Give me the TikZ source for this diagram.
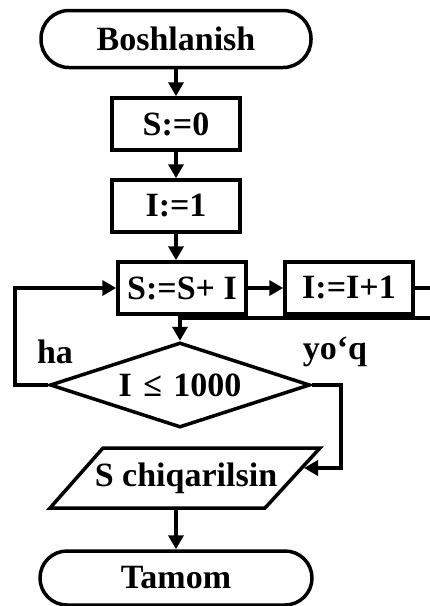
\documentclass[tikz,border=0pt]{standalone}
\usepackage{fontspec}
\setmainfont{Liberation Serif}
\usetikzlibrary{arrows.meta,shapes.geometric}
\begin{document}
\begin{tikzpicture}[x=1pt,y=-1pt,line width=3.5pt,
  >={Triangle[length=14pt,width=15pt]},
  font=\bfseries\fontsize{34}{38}\selectfont]
\tikzset{
  term/.style={draw,rounded corners=28pt,minimum width=270pt,minimum height=57pt,inner sep=0pt},
  proc/.style={draw,minimum width=128pt,minimum height=52pt,inner sep=0pt},
  dec/.style={draw,diamond,minimum width=260pt,minimum height=85pt,inner sep=0pt,aspect=3},
  lbl/.style={inner sep=0pt}
}
\useasboundingbox (0,0) rectangle (430,606);
\clip (0,0) rectangle (430,606);
\node[term] (start) at (176,39) {Boshlanish};
\node[proc] (s0) at (176,124) {S:=0};
\node[proc] (i1) at (176,206) {I:=1};
\node[proc] (ss) at (182,288) {S:=S+ I};
\node[proc] (ii) at (349,288) {I:=I+1};
\node[dec] (cond) at (180,385) {I\,\,≤\,\,1000};
\node[lbl] (ha) at (55,352) {ha};
\node[lbl] (yoq) at (335,352) {yo‘q};
\draw[line join=miter] (103,448) coordinate (pa) -- (320,448) coordinate (pb)
   -- (265,508) coordinate (pc) -- (50,508) coordinate (pd) -- cycle;
\node[lbl] (out) at (186,478) {S chiqarilsin};
\coordinate (outbot) at (176,508);
\coordinate (outin) at (304,468);
\node[term,minimum width=272pt,minimum height=54pt,rounded corners=27pt] (end) at (176,578) {Tamom};
\coordinate (offr) at (440,318);
\coordinate (merge) at (180,318);
\coordinate (lft) at (15,385);
\coordinate (rgt) at (341,468);
% connectors
\draw[->] (start) -- (s0);
\draw[->] (s0) -- (i1);
\draw[->] (i1.south) -- (i1.south |- ss.north);
\draw[->] (ss) -- (ii);
\draw[->] (ii.east) -| (offr) -- (merge) -- (cond.north);
\draw[->] (cond.west) -- (lft) |- (ss.west);
\draw[->] (cond.east) -| (rgt) -- (outin);
\draw[->] (outbot) -- (end.north);
\end{tikzpicture}
\end{document}
